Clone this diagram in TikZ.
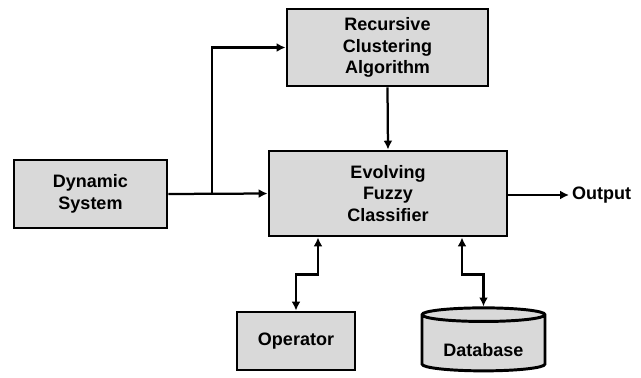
\documentclass[tikz,border=0pt]{standalone}
\usepackage{fontspec}
\setmainfont{Liberation Sans}
\usepackage{tikz}
\usetikzlibrary{shapes.geometric, arrows.meta}
\definecolor{boxgray}{RGB}{217,217,217}
\tikzstyle{block} = [rectangle, draw=black, fill=boxgray, line width=2.1pt,
    align=center, inner sep=0pt, font=\bfseries\fontsize{12.8}{15.5}\selectfont]
\tikzstyle{dbase} = [block, cylinder, shape border rotate=90, aspect=0.17,
    text height=21.5pt, text depth=2.5pt]
\tikzstyle{arrow} = [line width=1.6pt,->,>={Latex[length=0.22cm,width=0.22cm]}]
\tikzstyle{dblarrow} = [arrow,<->]

\begin{document}
\begin{tikzpicture}[x=0.025cm, y=-0.025cm]
            \useasboundingbox (0,0) rectangle (641,377);
            % Blocks
            \node[block, minimum width=153*0.025cm, minimum height=68*0.025cm] (dyn) at (90.5,194) {Dynamic\\System};
            \node[block, minimum width=201*0.025cm, minimum height=77*0.025cm] (rca) at (387.5,47.5) {Recursive\\Clustering\\Algorithm};
            \node[block, minimum width=238*0.025cm, minimum height=85*0.025cm] (efc) at (388,193.5) {Evolving\\Fuzzy\\Classifier};
            \node[block, minimum width=118*0.025cm, minimum height=58*0.025cm] (oper) at (296,341) {Operator};
            \node[dbase, minimum width=123*0.025cm, minimum height=63*0.025cm] (db) at (483.5,343.5) {Database};
            \node[font=\bfseries\fontsize{12.8}{15.5}\selectfont, anchor=west, inner sep=2pt] (out) at (569,195) {Output};
            \coordinate (split) at (212,194);
            % Arrows
            \draw[arrow] (dyn.east) -- (efc.west);
            \draw[arrow] (split) |- (rca.west);
            \draw[arrow] (rca.south) -- (efc.north);
            \draw[arrow] (efc.east |- out.west) -- (out.west);
            \draw[dblarrow] ([xshift=-70*0.025cm]efc.south) -- ++(0,37) -| (oper.north);
            \draw[dblarrow] ([xshift=74*0.025cm]efc.south) -- ++(0,37) -| (db.north);
\end{tikzpicture}
\end{document}
